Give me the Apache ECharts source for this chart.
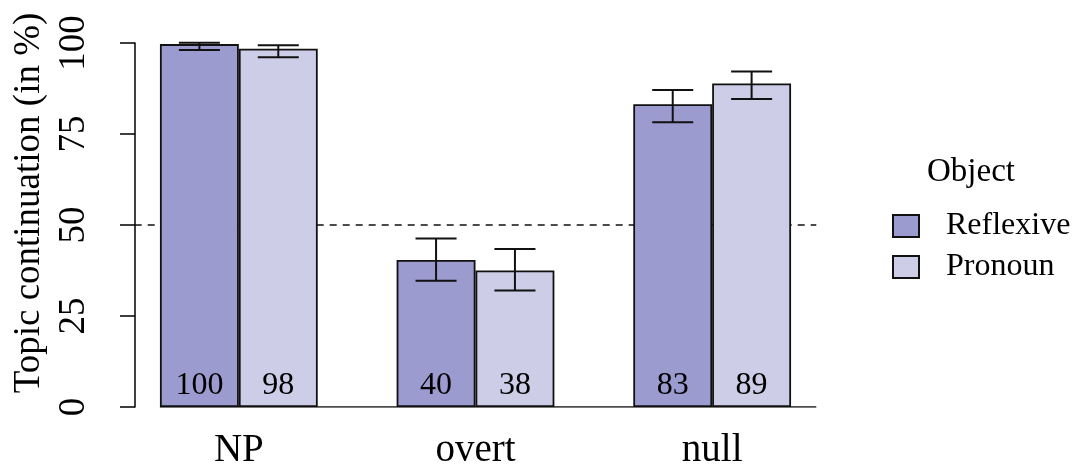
<!DOCTYPE html>
<html>
<head>
<meta charset="utf-8">
<script src="https://cdn.jsdelivr.net/npm/echarts@6/dist/echarts.min.js"></script>
<style>
  html, body { margin: 0; padding: 0; background: #fff; }
  #chart { width: 1077px; height: 474px; }
</style>
</head>
<body>
<div id="chart"></div>
<script>
// conditions on the x axis
var categories = ["NP", "overt", "null"];
// mean topic continuation (%)
var reflexive = [99.7, 40.4, 83.2];
var pronoun = [98.4, 37.5, 88.9];
// error bar bounds
var reflexiveLow = [98.1, 34.7, 78.2];
var reflexiveHigh = [100.1, 46.3, 87.1];
var pronounLow = [96.1, 32.0, 84.6];
var pronounHigh = [99.4, 43.4, 92.2];
var yTicks = [0, 25, 50, 75, 100];
var chanceLevel = 50;

var fontFam = "'Liberation Serif', 'DejaVu Serif', serif";

// error bars: one item per category, side = -1 reflexive, +1 pronoun
function errData(low, high) {
  return low.map(function (l, i) { return [i, l, high[i]]; });
}
function errRender(side) {
  return function (params, api) {
    var i = api.value(0);
    var band = api.size([1, 0])[0];
    var x = api.coord([i, 0])[0] + side * band / 6;
    var yLo = api.coord([i, api.value(1)])[1];
    var yHi = api.coord([i, api.value(2)])[1];
    var half = band / 3 * 0.26;
    var st = { stroke: "#111", lineWidth: 2 };
    return {
      type: "group",
      children: [
        { type: "line", shape: { x1: x, y1: yLo, x2: x, y2: yHi }, style: st },
        { type: "line", shape: { x1: x - half, y1: yLo, x2: x + half, y2: yLo }, style: st },
        { type: "line", shape: { x1: x - half, y1: yHi, x2: x + half, y2: yHi }, style: st }
      ]
    };
  };
}

var barLabel = {
  show: true,
  position: "insideBottom",
  distance: 5,
  fontFamily: fontFam,
  fontSize: 32,
  color: "#000",
  formatter: function (p) { return Math.round(p.value); }
};

var chart = echarts.init(document.getElementById("chart"));
chart.setOption({
  animation: false,
  title: {
    text: "Object",
    left: 922,
    top: 151,
    textStyle: { fontFamily: fontFam, fontSize: 33, fontWeight: "normal", color: "#000" }
  },
  legend: {
    data: ["Reflexive", "Pronoun"],
    orient: "vertical",
    left: 887,
    top: 205,
    itemWidth: 26,
    itemHeight: 22,
    itemGap: 9,
    icon: "rect",
    textStyle: { fontFamily: fontFam, fontSize: 32, color: "#000", padding: [0, 0, 0, 22] }
  },
  grid: { left: 120.5, right: 246.5, top: 43, bottom: 67 },
  xAxis: [
    {
      type: "category",
      data: categories,
      axisLine: { show: false },
      axisTick: { show: false },
      axisLabel: { fontFamily: fontFam, fontSize: 39, color: "#000", margin: 24 }
    },
    { type: "value", min: 0.5, max: 9.5, show: false }
  ],
  yAxis: {
    type: "value",
    min: 0,
    max: 100,
    interval: 25,
    offset: -14.5,
    name: "Topic continuation (in %)",
    nameLocation: "middle",
    nameRotate: 90,
    nameGap: 87,
    nameTextStyle: { fontFamily: fontFam, fontSize: 37, color: "#000", padding: [0, 0, 0, 44] },
    axisLine: { show: true, lineStyle: { color: "#000", width: 1.5 } },
    axisTick: { show: true, length: 15, lineStyle: { color: "#000", width: 1.5 } },
    axisLabel: {
      rotate: 90,
      margin: 42,
      fontFamily: fontFam,
      fontSize: 37,
      color: "#000",
      formatter: function (v) { return yTicks.indexOf(v) >= 0 ? v : ""; }
    },
    splitLine: { show: false }
  },
  series: [
    {
      name: "Reflexive",
      type: "bar",
      data: reflexive,
      barGap: "0%",
      barCategoryGap: "33.33%",
      itemStyle: { color: "#9b9bd0", borderColor: "#111", borderWidth: 1.8 },
      label: barLabel
    },
    {
      name: "Pronoun",
      type: "bar",
      data: pronoun,
      itemStyle: { color: "#cdcde8", borderColor: "#111", borderWidth: 1.8 },
      label: barLabel
    },
    {
      type: "custom",
      renderItem: errRender(-1),
      data: errData(reflexiveLow, reflexiveHigh),
      encode: { x: 0, y: [1, 2] },
      clip: false,
      z: 5
    },
    {
      type: "custom",
      renderItem: errRender(1),
      data: errData(pronounLow, pronounHigh),
      encode: { x: 0, y: [1, 2] },
      clip: false,
      z: 5
    },
    {
      // chance level across the plot region
      type: "line",
      xAxisIndex: 1,
      data: [[0.68, chanceLevel], [9.32, chanceLevel]],
      symbol: "none",
      lineStyle: { color: "#111", width: 1.5, type: [7, 6] },
      z: 1
    },
    {
      // baseline under the bars
      type: "line",
      xAxisIndex: 1,
      data: [[1, 0], [9.32, 0]],
      symbol: "none",
      lineStyle: { color: "#111", width: 1.5 },
      z: 4
    }
  ]
});
</script>
</body>
</html>
